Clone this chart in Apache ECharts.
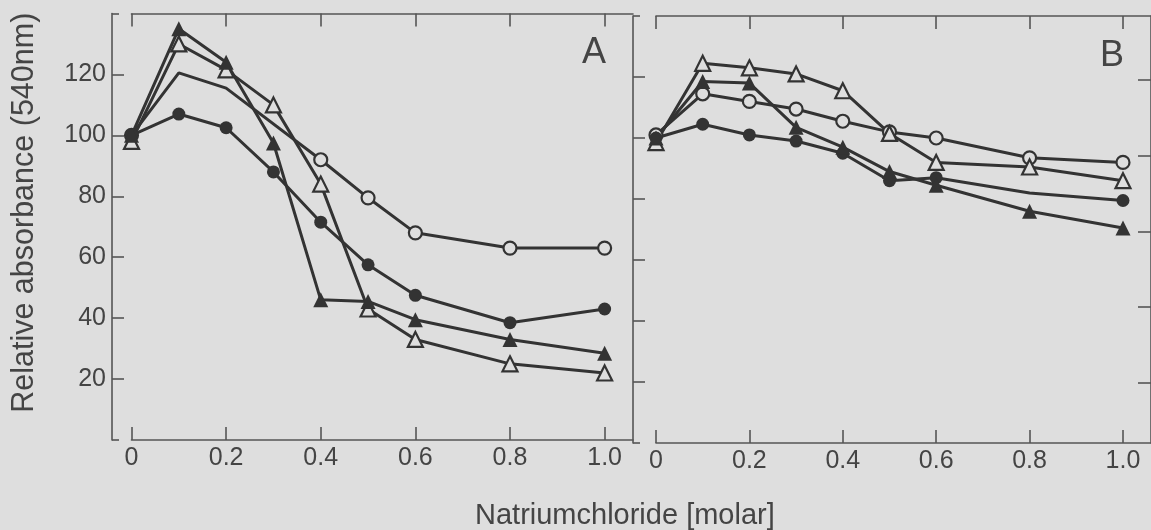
<!DOCTYPE html>
<html><head><meta charset="utf-8">
<script src="https://cdn.jsdelivr.net/npm/echarts@6/dist/echarts.min.js"></script>
<style>html,body{margin:0;padding:0;background:#dedede}#c{width:1151px;height:530px}</style>
</head><body><div id="c"></div>
<script>
// ---- data ----
const xTicks = [0, 0.2, 0.4, 0.6, 0.8, 1.0];
const yTicks = [20, 40, 60, 80, 100, 120];
const yEnds = [0, 140];
const rightTicksB = [0, 1, 2, 3, 4];

const nacl = [0, 0.1, 0.2, 0.3, 0.4, 0.5, 0.6, 0.8, 1.0];

// Panel A
const A_filledTri  = [100, 135, 124, 97.5, 46, 45.5, 39.5, 33, 28.5];
const A_openTri    = [98, 130, 121.5, 110, 84, 43, 33, 25, 22];
const A_filledCirc = [100, 107, 102.5, 88, 71.5, 57.5, 47.5, 38.5, 43];
const A_openCirc   = [100, 120.5, 115.5, null, 92, 79.5, 68, 63, 63];
const A_openCirc_noMarker = [0.1, 0.2];

// Panel B
const B_openTri    = [98.5, 124.5, 123, 121, 115.5, 101.5, 92, 90.5, 86];
const B_openCirc   = [101, 114.5, 112, 109.5, 105.5, 102, 100, 93.5, 92];
const B_filledTri  = [100, 118.5, 118, 103.5, 97, 89, 84.5, 76, 70.5];
const B_filledCirc = [100, 104.5, 101, 99, 95, 86, 87, 82, 79.5];
const B_filledCirc_noMarker = [0.8];

const panelLabels = ['A', 'B'];
const xTitle = 'Natriumchloride [molar]';
const yTitle = 'Relative absorbance (540nm)';

// ---- style ----
const BG = '#dedede';
const INK = '#333333';
const AXIS = '#555555';
const TXT = '#444444';
const FONT = "'Liberation Sans', Arial, Helvetica, sans-serif";

function xAx(grid, pos, labels) {
  return {
    type: 'value', gridIndex: grid, position: pos, min: 0, max: 1.06,
    axisLine: { show: true, onZero: false, lineStyle: { color: AXIS, width: 1.6 } },
    axisTick: { show: true, inside: true, length: 13, customValues: xTicks, lineStyle: { color: AXIS, width: 1.6 } },
    axisLabel: { show: labels, customValues: xTicks, margin: 6, color: TXT, fontSize: 25, fontFamily: FONT,
      formatter: v => v === 0 ? '0' : v.toFixed(1) },
    splitLine: { show: false }
  };
}
function yAx(grid, offset, labels, extra) {
  return Object.assign({
    type: 'value', gridIndex: grid, position: 'left', offset: offset, min: 0, max: 140,
    axisLine: { show: true, onZero: false, lineStyle: { color: AXIS, width: 1.6 } },
    axisTick: { show: true, inside: true, length: 12, customValues: yTicks, lineStyle: { color: AXIS, width: 1.6 } },
    axisLabel: { show: labels, customValues: yTicks, margin: 6, color: TXT, fontSize: 25, fontFamily: FONT },
    splitLine: { show: false }
  }, extra || {});
}
function capAx(grid, offset) {
  return {
    type: 'value', gridIndex: grid, position: 'left', offset: offset, min: 0, max: 140,
    axisLine: { show: true, onZero: false, lineStyle: { color: AXIS, width: 1.6, opacity: 0 } },
    axisTick: { show: true, inside: true, length: 7, customValues: yEnds, lineStyle: { color: AXIS, width: 1.6 } },
    axisLabel: { show: false }, splitLine: { show: false }
  };
}

function mk(xs, ys, xi, yi, shape, filled, noMarker) {
  const data = [];
  xs.forEach((x, i) => {
    if (ys[i] == null) return;
    const d = { value: [x, ys[i]] };
    if (noMarker && noMarker.includes(x)) d.symbol = 'none';
    data.push(d);
  });
  return {
    type: 'line', xAxisIndex: xi, yAxisIndex: yi, data: data,
    symbol: shape, symbolSize: shape === 'triangle' ? 15 : 13,
    lineStyle: { color: INK, width: 3 },
    itemStyle: { color: filled ? INK : BG, borderColor: INK, borderWidth: filled ? 0 : 2.2 },
    emphasis: { disabled: true }, animation: false
  };
}

const chart = echarts.init(document.getElementById('c'));
chart.setOption({
  backgroundColor: BG,
  animation: false,
  title: [
    { text: panelLabels[0], left: 577, top: 30, textStyle: { fontSize: 36, fontWeight: 'normal', color: TXT, fontFamily: FONT } },
    { text: panelLabels[1], left: 1095, top: 33, textStyle: { fontSize: 36, fontWeight: 'normal', color: TXT, fontFamily: FONT } },
    { text: xTitle, left: 470, top: 496, textStyle: { fontSize: 29, fontWeight: 'normal', color: TXT, fontFamily: FONT } }
  ],
  grid: [
    { left: 131.5, top: 13.5, width: 501.5, bottom: 90 },
    { left: 656, top: 16, right: -2, bottom: 87 }
  ],
  xAxis: [
    xAx(0, 'bottom', true), xAx(0, 'top', false),
    xAx(1, 'bottom', true), xAx(1, 'top', false)
  ],
  yAxis: [
    yAx(0, 19.5, true, { name: yTitle, nameLocation: 'middle', nameRotate: 90, nameGap: 72,
      nameTextStyle: { fontSize: 30.5, color: TXT, fontFamily: FONT, padding: [0, 0, 0, 28] } }),
    capAx(0, 19.5),
    yAx(1, 23, false),
    capAx(1, 23),
    {
      type: 'value', gridIndex: 1, position: 'right', min: -0.8, max: 4.85,
      axisLine: { show: true, onZero: false, lineStyle: { color: AXIS, width: 1.6 } },
      axisTick: { show: true, inside: true, length: 13, customValues: rightTicksB, lineStyle: { color: AXIS, width: 1.6 } },
      axisLabel: { show: false }, splitLine: { show: false }
    }
  ],
  series: [
    mk(nacl, A_openCirc, 0, 0, 'circle', false, A_openCirc_noMarker),
    mk(nacl, A_filledCirc, 0, 0, 'circle', true),
    mk(nacl, A_openTri, 0, 0, 'triangle', false),
    mk(nacl, A_filledTri, 0, 0, 'triangle', true),
    mk(nacl, B_openCirc, 2, 2, 'circle', false),
    mk(nacl, B_filledCirc, 2, 2, 'circle', true, B_filledCirc_noMarker),
    mk(nacl, B_openTri, 2, 2, 'triangle', false),
    mk(nacl, B_filledTri, 2, 2, 'triangle', true)
  ]
});
</script></body></html>
